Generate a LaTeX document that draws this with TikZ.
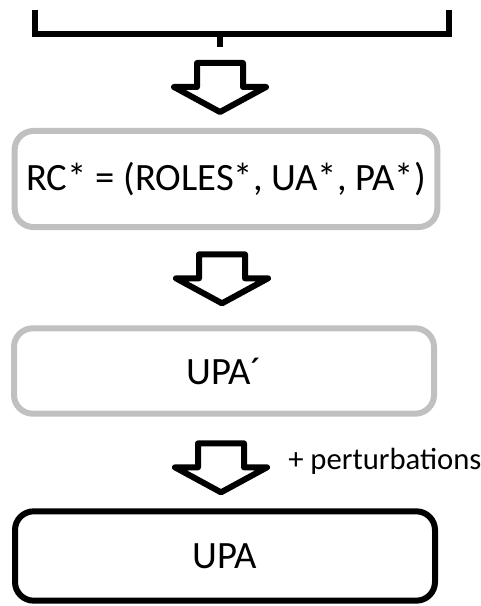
\documentclass[tikz,border=0pt]{standalone}
\usepackage{fontspec}
\setmainfont{Carlito}
\usepackage{tikz}
\usetikzlibrary{calc}
\definecolor{boxgray}{RGB}{192,192,192}

\begin{document}
\begin{tikzpicture}[x=0.75pt, y=-0.75pt,
		every node/.style={font=\fontsize{29}{34}\selectfont},
		stage/.style={draw, rounded corners=14pt, line width=4.5pt, inner sep=0pt},
		blockarrow/.pic={\draw[line width=4.5pt, line join=round, fill=white] (-23,-24) -- (23,-24) -- (23,0) -- (46,0) -- (0,25) -- (-46,0) -- (-23,0) -- cycle;}]
		\useasboundingbox (0,0) rectangle (481,606);
		% bracket
		\draw[line width=4.5pt] (35,10) -- (35,34) -- (449,34) -- (449,10);
		\coordinate (tick) at (220,47);
		\draw[line width=4.5pt] (220,34) -- (tick);
		% stages
		\node[stage, draw=boxgray, minimum width=317pt, minimum height=72pt] (rc) at (226,179) {RC* = (ROLES*, UA*, PA*)};
		\node[stage, draw=boxgray, minimum width=315pt, minimum height=64pt] (upap) at (224,371) {UPA´};
		\node[stage, draw=black, minimum width=315pt, minimum height=67pt] (upa) at (225,556) {UPA};
		% arrows
		\coordinate (a1) at ($(rc.north)+(-6,-41)$);
		\coordinate (a2) at ($(upap.north)+(-2,-47)$);
		\coordinate (a3) at ($(upa.north)+(-4,-41)$);
		\pic at (a1) {blockarrow};
		\pic at (a2) {blockarrow};
		\pic at (a3) {blockarrow};
		\node[anchor=base west, font=\fontsize{23}{28}\selectfont, inner sep=0pt] (pert) at ($(a3)+(67,2)$) {+ perturbations};
	\end{tikzpicture}
\end{document}
